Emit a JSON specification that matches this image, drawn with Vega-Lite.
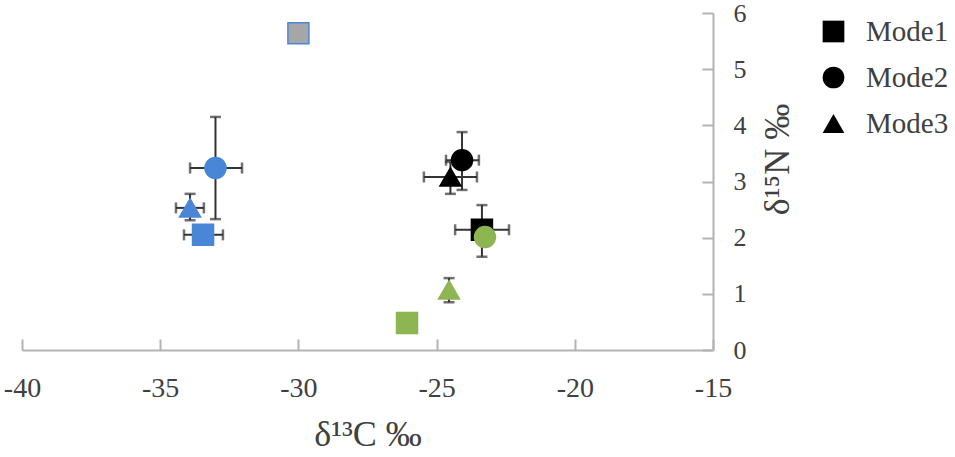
{
  "$schema": "https://vega.github.io/schema/vega-lite/v6.json",
  "width": 691,
  "height": 337,
  "autosize": {"type": "none"},
  "padding": {"left": 22, "top": 13, "right": 242, "bottom": 107},
  "background": "white",
  "config": {
    "view": {"stroke": null},
    "font": "Liberation Serif",
    "axis": {"labelFont": "Liberation Serif", "titleFont": "Liberation Serif"},
    "legend": {"labelFont": "Liberation Serif"}
  },
  "data": {"values": [
    {"group": "grey", "mode": "Mode1", "x": -30.0, "y": 5.64},
    {"group": "blue", "mode": "Mode2", "x": -33.0, "y": 3.24, "xlo": -33.92, "xhi": -32.04, "ylo": 2.33, "yhi": 4.15},
    {"group": "blue", "mode": "Mode3", "x": -33.92, "y": 2.53, "xlo": -34.43, "xhi": -33.42, "ylo": 2.31, "yhi": 2.78},
    {"group": "blue", "mode": "Mode1", "x": -33.45, "y": 2.05, "xlo": -34.14, "xhi": -32.73},
    {"group": "black", "mode": "Mode2", "x": -24.08, "y": 3.38, "xlo": -24.66, "xhi": -23.47, "ylo": 2.85, "yhi": 3.88},
    {"group": "black", "mode": "Mode3", "x": -24.5, "y": 3.08, "xlo": -25.46, "xhi": -23.54, "ylo": 2.78, "yhi": 3.35},
    {"group": "black", "mode": "Mode1", "x": -23.36, "y": 2.14, "xlo": -24.33, "xhi": -22.38, "ylo": 1.66, "yhi": 2.58},
    {"group": "green", "mode": "Mode2", "x": -23.25, "y": 2.01},
    {"group": "green", "mode": "Mode3", "x": -24.55, "y": 1.07, "ylo": 0.85, "yhi": 1.28},
    {"group": "green", "mode": "Mode1", "x": -26.07, "y": 0.48}
  ]},
  "encoding": {
    "x": {"field": "x", "type": "quantitative",
      "scale": {"domain": [-40, -15], "nice": false, "zero": false},
      "axis": {"title": "δ¹³C ‰", "values": [-40, -35, -30, -25, -20, -15], "grid": false,
        "labelExpr": "datum.value + ''", "labelFlush": false, "labelOverlap": false,
        "domainColor": "#B3B3B3", "domainWidth": 2, "tickColor": "#B3B3B3", "tickWidth": 2, "tickSize": -11,
        "labelFont": "Liberation Serif", "labelFontSize": 28, "labelColor": "#404040", "labelPadding": 35,
        "titleFont": "Liberation Serif", "titleFontSize": 36, "titleFontWeight": "normal", "titleColor": "#404040", "titlePadding": 15}},
    "y": {"field": "y", "type": "quantitative",
      "scale": {"domain": [0, 6], "nice": false},
      "axis": {"orient": "right", "title": "δ¹⁵N ‰", "values": [0, 1, 2, 3, 4, 5, 6], "grid": false,
        "labelFlush": false, "labelOverlap": false,
        "domainColor": "#B3B3B3", "domainWidth": 2, "tickColor": "#B3B3B3", "tickWidth": 2, "tickSize": -11,
        "labelFont": "Liberation Serif", "labelFontSize": 26, "labelColor": "#404040", "labelPadding": 31,
        "titleFont": "Liberation Serif", "titleFontSize": 36, "titleFontWeight": "normal", "titleColor": "#404040", "titleAngle": 270, "titlePadding": 50, "titleY": 146}}
  },
  "layer": [
    {
      "transform": [{"filter": "datum.ylo != null"}],
      "mark": {"type": "rule", "color": "#333333", "strokeWidth": 2},
      "encoding": {"y": {"field": "ylo", "type": "quantitative"}, "y2": {"field": "yhi"}}
    },
    {
      "transform": [{"filter": "datum.xlo != null"}],
      "mark": {"type": "rule", "color": "#333333", "strokeWidth": 2},
      "encoding": {"x": {"field": "xlo", "type": "quantitative"}, "x2": {"field": "xhi"}}
    },
    {
      "transform": [{"filter": "datum.ylo != null"}],
      "mark": {"type": "tick", "orient": "horizontal", "color": "#333333", "size": 11, "thickness": 2.5},
      "encoding": {"y": {"field": "ylo", "type": "quantitative"}}
    },
    {
      "transform": [{"filter": "datum.ylo != null"}],
      "mark": {"type": "tick", "orient": "horizontal", "color": "#333333", "size": 11, "thickness": 2.5},
      "encoding": {"y": {"field": "yhi", "type": "quantitative"}}
    },
    {
      "transform": [{"filter": "datum.xlo != null"}],
      "mark": {"type": "tick", "orient": "vertical", "color": "#333333", "size": 11, "thickness": 2.5},
      "encoding": {"x": {"field": "xlo", "type": "quantitative"}}
    },
    {
      "transform": [{"filter": "datum.xlo != null"}],
      "mark": {"type": "tick", "orient": "vertical", "color": "#333333", "size": 11, "thickness": 2.5},
      "encoding": {"x": {"field": "xhi", "type": "quantitative"}}
    },
    {
      "mark": {"type": "point", "filled": true, "size": 441, "opacity": 1},
      "encoding": {
        "shape": {"field": "mode", "type": "nominal",
          "scale": {"domain": ["Mode1", "Mode2", "Mode3"], "range": ["square", "circle", "triangle-up"]},
          "legend": {"orient": "none", "legendX": 797, "legendY": 4, "title": null,
            "symbolFillColor": "#000000", "symbolStrokeWidth": 0, "symbolSize": 470, "symbolOpacity": 1,
            "labelFont": "Liberation Serif", "labelFontSize": 29, "labelColor": "#404040", "labelOffset": 18,
            "rowPadding": 16, "padding": 0}},
        "color": {"field": "group", "type": "nominal",
          "scale": {"domain": ["grey", "blue", "black", "green"], "range": ["#A6A6A6", "#4A86D8", "#000000", "#8DB552"]},
          "legend": null},
        "stroke": {"field": "group", "type": "nominal",
          "scale": {"domain": ["grey", "blue", "black", "green"], "range": ["#4A86D8", "#4A86D8", "#000000", "#8DB552"]},
          "legend": null},
        "strokeWidth": {"value": 1.5}
      }
    }
  ]
}
